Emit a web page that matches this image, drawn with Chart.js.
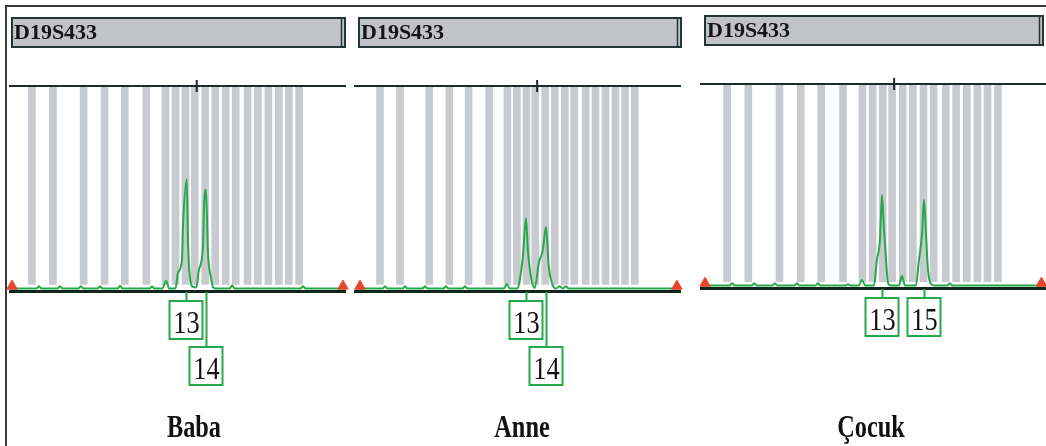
<!DOCTYPE html>
<html>
<head>
<meta charset="utf-8">
<script src="https://cdn.jsdelivr.net/npm/chart.js@4.4.1/dist/chart.umd.min.js"></script>
<style>
  html, body { margin:0; padding:0; background:#fff; }
  body { width:1046px; height:446px; position:relative; overflow:hidden; }
  .frame { position:absolute; left:5px; top:5px; width:1050px; height:450px;
           border-top:2px solid #3a3a3a; border-left:2px solid #3a3a3a; }
  canvas { position:absolute; top:0; }
</style>
</head>
<body>
<div class="frame"></div>
<canvas id="baba" width="350" height="446" style="left:0"></canvas>
<canvas id="anne" width="345" height="446" style="left:350px"></canvas>
<canvas id="cocuk" width="351" height="446" style="left:695px"></canvas>
<script>
// marker + sample names
const markerName = 'D19S433';
const panelNames = ['Baba', 'Anne', 'Çocuk'];

// allele bins (bp) and the ruler tick
const binSizes = [180, 188.4, 200.7, 209.1, 217.2, 225.8, 233.5, 237.5, 241.5, 245.2,
                  249.4, 253.4, 257.6, 261.6, 266.4, 270.5, 274.7, 278.9, 282.9, 287];
const rulerTick = [246];

// traces: size (bp) / height
const babaX = [171.2, 181.8, 182.8, 183.8, 190.2, 191.2, 192.2, 198.6, 199.6, 200.6,
               206.3, 207.3, 208.3, 214.3, 215.3, 216.3, 227.1, 228.1, 229.1, 232.2, 233.7, 235.0,
               237.5, 238.5, 240.1, 240.5, 242.0, 242.5, 243.3, 244.5,
               245.8, 246.9, 248.5, 248.9, 249.7, 250.5, 251.7, 252.5, 253.5,
               259.2, 260.2, 261.2, 287.6, 288.6, 289.6, 305.4];
const babaY = [0, 0, 12, 0, 0, 12, 0, 0, 12, 0,
               0, 12, 0, 0, 14, 0, 0, 10, 0, 0, 39, 0,
               0, 79, 143, 306, 538, 227, 54, 8,
               5, 94, 207, 404, 488, 178, 54, 8, 0,
               0, 15, 0, 0, 12, 0, 0];

const anneX = [169.5, 181.1, 182.1, 183.1, 189.5, 190.5, 191.5, 197.9, 198.9, 199.9,
               206.7, 207.7, 208.7, 214.7, 215.7, 216.7, 232.0, 233.3, 234.5,
               237.8, 238.7, 240.0, 241.3, 242.1, 243.8, 245.0,
               246.7, 248.4, 249.7, 250.9, 252.2, 253.9,
               255.5, 256.8, 258.1, 259.2, 306];
const anneY = [0, 0, 12, 0, 0, 12, 0, 0, 12, 0,
               0, 12, 0, 0, 12, 0, 0, 23, 0,
               0, 42, 156, 348, 190, 33, 3,
               126, 190, 304, 107, 28, 0,
               12, 0, 12, 0, 0];

const cocukX = [169.7, 181.0, 182.0, 183.0, 189.7, 190.7, 191.7, 197.9, 198.9, 199.9,
                206.6, 207.6, 208.6, 214.9, 215.9, 216.9, 226.8, 227.8, 228.8, 232.0, 233.3, 234.6,
                238.0, 239.2, 240.4, 241.2, 242.0, 242.8, 243.6, 244.7,
                247.9, 249.1, 250.3,
                254.6, 255.8, 257.0, 257.8, 258.6, 259.4, 261.0, 262.0,
                267.0, 268.0, 269.0, 306];
const cocukY = [0, 0, 12, 0, 0, 12, 0, 0, 12, 0,
                0, 12, 0, 0, 12, 0, 0, 6, 0, 0, 28, 0,
                0, 127, 226, 449, 276, 127, 13, 0,
                0, 48, 0,
                0, 127, 251, 425, 251, 77, 3, 0,
                0, 12, 0, 0];

// size standard markers (red triangles)
const babaMarks = [172.0, 304.6];
const anneMarks = [171.6, 304.7];
const cocukMarks = [171.3, 304.2];

// allele calls
const babaAlleles = ['13', '14'];
const babaAlleleSizes = [241.9, 249.7];
const anneAlleles = ['13', '14'];
const anneAlleleSizes = [241.4, 249.8];
const cocukAlleles = ['13', '15'];
const cocukAlleleSizes = [241.2, 257.8];

// pixel layout per panel
const panelLayout = [
  { padding: {left: 10, right: 5, top: 86, bottom: 155}, xMin: 171.2, xMax: 305.4, boxL: 12, boxR: 345, nameX: 194 },
  { padding: {left: 5, right: 15, top: 86, bottom: 155}, xMin: 169.5, xMax: 306, boxL: 9, boxR: 331, nameX: 172 },
  { padding: {left: 6, right: 0, top: 84, bottom: 158}, xMin: 169.7, xMax: 306, boxL: 10, boxR: 348, nameX: 176 }
];

const GREEN = '#26a94a';

const decor = {
  id: 'decor',
  afterDraw(chart, args, o) {
    const {ctx, chartArea: a} = chart;
    const x = chart.scales.x;
    ctx.save();

    // marker title box
    const top = a.top - 68, h = 29;
    ctx.fillStyle = '#c1c3c6';
    ctx.fillRect(o.boxL, top, o.boxR - o.boxL, h);
    ctx.strokeStyle = '#243434';
    ctx.lineWidth = 2;
    ctx.strokeRect(o.boxL, top, o.boxR - o.boxL, h);
    ctx.lineWidth = 1.5;
    ctx.beginPath();
    ctx.moveTo(o.boxR - 3.5, top + 1);
    ctx.lineTo(o.boxR - 3.5, top + h - 1);
    ctx.stroke();
    ctx.fillStyle = '#151515';
    ctx.font = 'bold 22px "Liberation Serif"';
    ctx.textAlign = 'left';
    ctx.textBaseline = 'alphabetic';
    ctx.fillText(o.marker, o.boxL + 2, top + 21);

    // allele labels, staggered when they overlap
    const bw = 33, bh = 38;
    let prevRight = -1e9, row = 0;
    o.alleles.forEach((lab, i) => {
      const px = Math.round(x.getPixelForValue(o.sizes[i]));
      row = (px - bw / 2 < prevRight + 2) ? row + 1 : 0;
      prevRight = px + bw / 2;
      const bt = a.bottom + 10 + row * 46;
      ctx.strokeStyle = GREEN;
      ctx.lineWidth = 2;
      ctx.beginPath();
      ctx.moveTo(px + 0.5, a.bottom + 1);
      ctx.lineTo(px + 0.5, bt);
      ctx.stroke();
      ctx.fillStyle = '#fff';
      ctx.fillRect(px - bw / 2, bt, bw, bh);
      ctx.strokeRect(px - bw / 2, bt, bw, bh);
      ctx.save();
      ctx.translate(px + 0.5, bt + 32);
      ctx.scale(0.85, 1);
      ctx.fillStyle = '#111';
      ctx.font = '31px "Liberation Serif"';
      ctx.textAlign = 'center';
      ctx.fillText(lab, 0, 0);
      ctx.restore();
    });

    // sample name
    ctx.translate(o.nameX, 437);
    ctx.scale(0.76, 1);
    ctx.fillStyle = '#111';
    ctx.font = 'bold 32px "Liberation Serif"';
    ctx.textAlign = 'center';
    ctx.fillText(o.name, 0, 0);
    ctx.restore();
  }
};

function buildPanel(id, i, traceX, traceY, marks, alleles, sizes) {
  const L = panelLayout[i];
  const yTop = 1000;
  const flat = {
    type: 'linear', min: L.xMin, max: L.xMax, offset: false,
    ticks: {display: false}, grid: {display: false, drawTicks: false},
    afterFit(s) { s.height = 0; }
  };
  return new Chart(document.getElementById(id), {
    type: 'line',
    data: {
      datasets: [
        {
          type: 'line',
          data: traceX.map((v, k) => ({x: v, y: traceY[k]})),
          borderColor: GREEN, borderWidth: 2, pointRadius: 0,
          cubicInterpolationMode: 'monotone', order: 2
        },
        {
          type: 'bar',
          data: binSizes.map(b => ({x: b, y: [20, yTop]})),
          backgroundColor: 'rgb(199,202,207)', barThickness: 7, order: 3
        },
        {
          type: 'line', showLine: false, clip: false,
          data: marks.map(m => ({x: m, y: 12})),
          pointStyle: 'triangle', pointRadius: 6,
          backgroundColor: '#e8432b', borderColor: '#e8432b', borderWidth: 1, order: 1
        },
        {
          type: 'line', showLine: false, clip: false,
          data: rulerTick.map(t => ({x: t, y: yTop})),
          pointStyle: 'line', rotation: 90, pointRadius: 6,
          borderColor: '#1c2929', borderWidth: 2, order: 0
        }
      ]
    },
    options: {
      responsive: false, animation: false, events: [],
      layout: {padding: L.padding, autoPadding: false},
      plugins: {
        legend: {display: false}, tooltip: {enabled: false},
        decor: {marker: markerName, name: panelNames[i], alleles: alleles, sizes: sizes,
                boxL: L.boxL, boxR: L.boxR, nameX: L.nameX}
      },
      scales: {
        x: Object.assign({}, flat, {position: 'bottom', border: {display: true, color: '#10261a', width: 3, z: 1}}),
        xTop: Object.assign({}, flat, {position: 'top', border: {display: true, color: '#1e2b2b', width: 2, z: 1}}),
        y: {display: false, min: -12, max: yTop}
      }
    },
    plugins: [decor]
  });
}

buildPanel('baba', 0, babaX, babaY, babaMarks, babaAlleles, babaAlleleSizes);
buildPanel('anne', 1, anneX, anneY, anneMarks, anneAlleles, anneAlleleSizes);
buildPanel('cocuk', 2, cocukX, cocukY, cocukMarks, cocukAlleles, cocukAlleleSizes);
</script>
</body>
</html>
